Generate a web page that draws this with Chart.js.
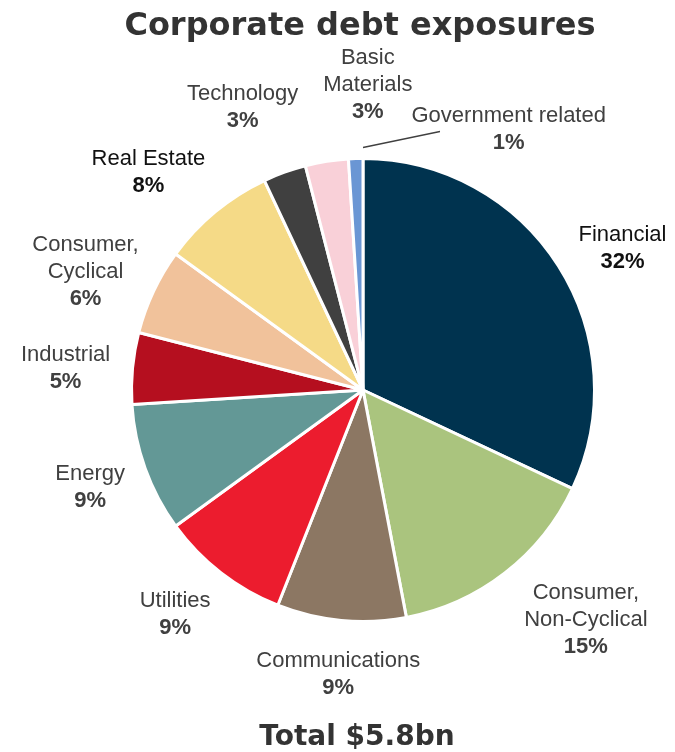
<!DOCTYPE html>
<html>
<head>
<meta charset="utf-8">
<script src="https://cdn.jsdelivr.net/npm/chart.js@4.4.0/dist/chart.umd.min.js"></script>
<style>
  html, body { margin: 0; padding: 0; background: #ffffff; }
  #wrap { width: 675px; height: 752px; position: relative; }
</style>
</head>
<body>
<div id="wrap"><canvas id="chart" width="675" height="752"></canvas></div>
<script>
// Sector breakdown of corporate debt exposures (% of total)
const categories = [
  'Financial', 'Consumer, Non-Cyclical', 'Communications', 'Utilities', 'Energy',
  'Industrial', 'Consumer, Cyclical', 'Real Estate', 'Technology', 'Basic Materials',
  'Government related'
];
const shares = [32, 15, 9, 9, 9, 5, 6, 8, 3, 3, 1];

// How each category name is broken across lines
const labelLines = [
  ['Financial'], ['Consumer,', 'Non-Cyclical'], ['Communications'], ['Utilities'], ['Energy'],
  ['Industrial'], ['Consumer,', 'Cyclical'], ['Real Estate'], ['Technology'], ['Basic', 'Materials'],
  ['Government related']
];

const sliceColors = [
  '#00334f', '#aac47e', '#8c7763', '#ec1c2e', '#639896',
  '#b50f1f', '#f1c29b', '#f5da87', '#404040', '#f9d0d8', '#6a96d4'
];

const chartTitle = 'Corporate debt exposures';
const totalNote = 'Total $5.8bn';

// Label block placement: shift from the outer midpoint of each slice
const labelShift = [
  [64, -18], [81, 47], [-3, 54], [-46, 42], [-55, 19],
  [-67, 0], [-68, -19], [-67, -39], [-42, -65], [41, -76], [153, -29]
];
const labelInk = [
  '#111111', '#404040', '#404040', '#404040', '#404040',
  '#404040', '#404040', '#111111', '#404040', '#404040', '#404040'
];

const LABEL_SIZE = 22;
const LINE_GAP = 27;

const sliceLabels = {
  id: 'sliceLabels',
  afterDatasetsDraw(chart) {
    const ctx = chart.ctx;
    const meta = chart.getDatasetMeta(0);
    ctx.save();
    ctx.textAlign = 'center';
    ctx.textBaseline = 'middle';
    meta.data.forEach((arc, i) => {
      const mid = (arc.startAngle + arc.endAngle) / 2;
      const r = arc.outerRadius;
      const ax = arc.x + Math.cos(mid) * r;
      const ay = arc.y + Math.sin(mid) * r;
      const cx = ax + labelShift[i][0];
      const cy = ay + labelShift[i][1];
      const lines = labelLines[i].concat([shares[i] + '%']);
      let y = cy - (lines.length - 1) * LINE_GAP / 2;
      ctx.fillStyle = labelInk[i];
      lines.forEach((t, k) => {
        const bold = k === lines.length - 1;
        ctx.font = (bold ? 'bold ' : '') + LABEL_SIZE + 'px "Liberation Sans", Arial, sans-serif';
        ctx.fillText(t, cx, y);
        y += LINE_GAP;
      });
      // leader line for the thinnest slice
      if (i === categories.length - 1) {
        const sx = arc.x + Math.cos(arc.endAngle) * (r + 11);
        const sy = arc.y + Math.sin(arc.endAngle) * (r + 11);
        ctx.strokeStyle = '#404040';
        ctx.lineWidth = 1.3;
        ctx.beginPath();
        ctx.moveTo(sx, sy);
        ctx.lineTo(sx + 77, sy - 16);
        ctx.stroke();
      }
    });

    ctx.fillStyle = '#333333';
    ctx.font = 'bold 32px "DejaVu Sans", Verdana, sans-serif';
    ctx.fillText(chartTitle, 360, 27);
    ctx.font = 'bold 28px "DejaVu Sans", Verdana, sans-serif';
    ctx.fillText(totalNote, 357, 738);
    ctx.restore();
  }
};

new Chart(document.getElementById('chart'), {
  type: 'pie',
  data: {
    labels: categories,
    datasets: [{
      data: shares,
      backgroundColor: sliceColors,
      borderColor: '#ffffff',
      borderWidth: 3
    }]
  },
  options: {
    responsive: false,
    animation: false,
    rotation: 0,
    layout: { padding: { left: 130, right: 79, top: 157, bottom: 129 } },
    plugins: {
      legend: { display: false },
      tooltip: { enabled: false },
      title: { display: false }
    }
  },
  plugins: [sliceLabels]
});
</script>
</body>
</html>
